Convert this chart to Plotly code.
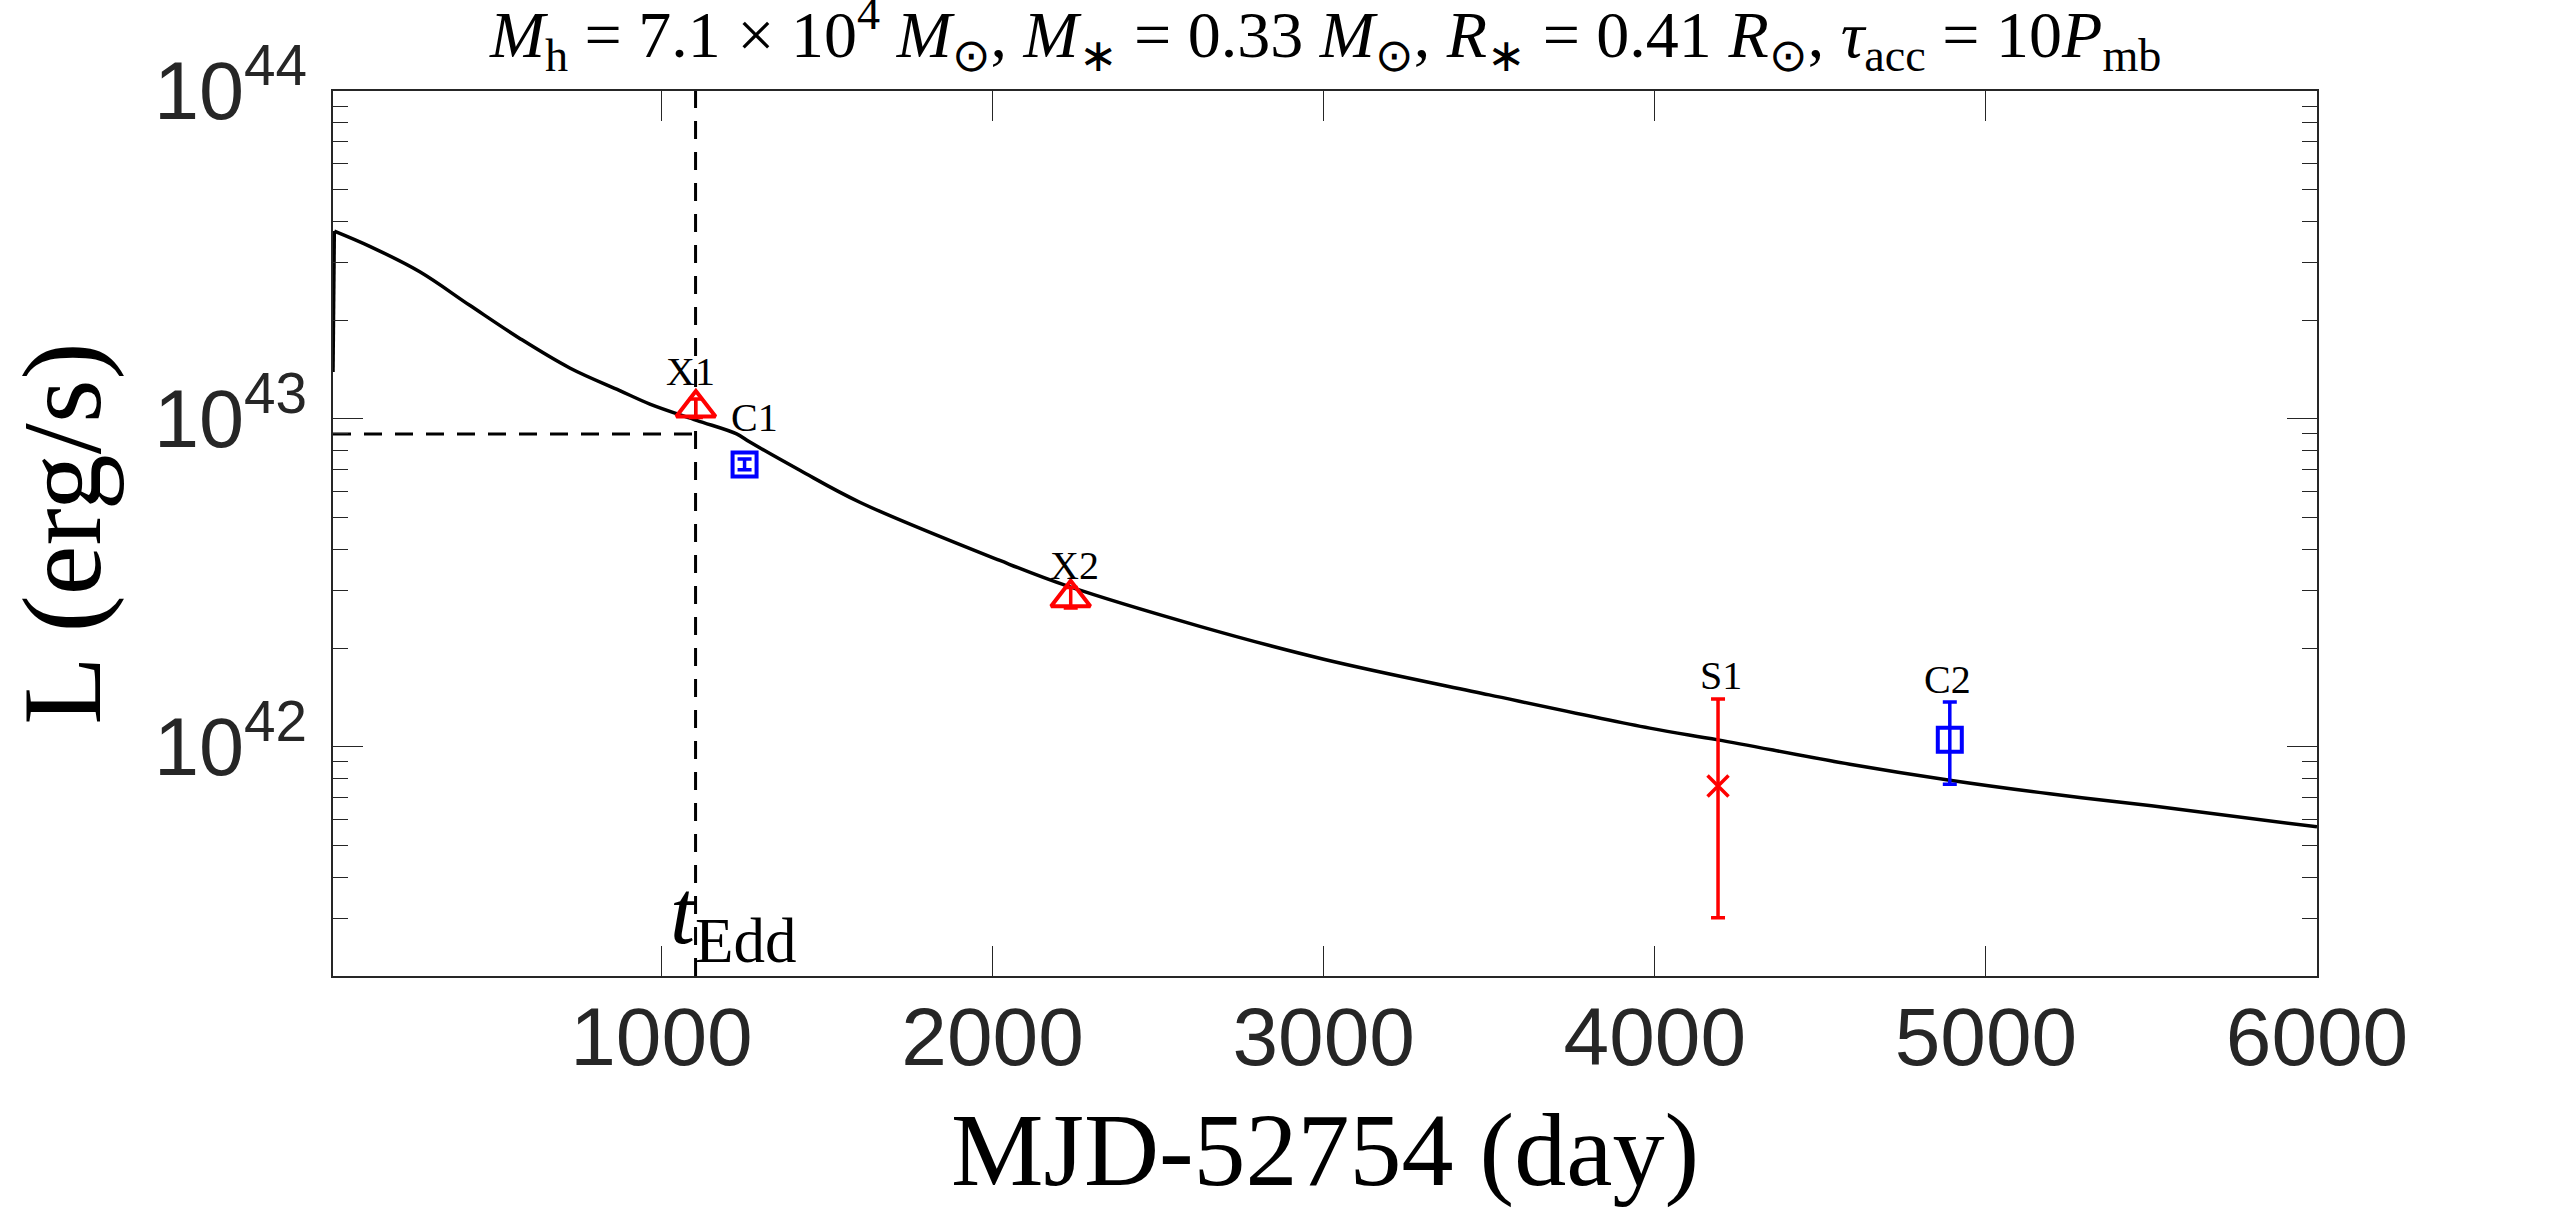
import math
import plotly.graph_objects as go

# model light curve (day, erg/s)
t_model = [8, 12, 119, 270, 421, 572, 723, 874, 965, 1106, 1227, 1267, 1418, 1599,
           2022, 2223, 2626, 3000, 3500, 3985, 4191, 4589, 4891, 5193, 5500, 6000]
L_model = [1.39e43, 3.74e43, 3.36e43, 2.81e43, 2.22e43, 1.76e43, 1.43e43, 1.22e43,
           1.11e43, 9.9e42, 9.0e42, 8.5e42, 6.97e42, 5.57e42,
           3.70e42, 3.10e42, 2.33e42, 1.85e42, 1.44e42, 1.14e42, 1.05e42, 8.85e41,
           7.91e41, 7.19e41, 6.61e41, 5.70e41]

# Eddington time / luminosity
t_edd = 1103
L_edd = 9.0e42

# observations
xmm_t = [1104, 2236]
xmm_L = [1.08e43, 2.85e42]
xmm_hi = [1.15e43, 3.06e42]
xmm_lo = [1.01e43, 2.65e42]
xmm_names = ["X1", "X2"]

chandra_t = [1251, 4891]
chandra_L = [7.26e42, 1.05e42]
chandra_hi = [7.54e42, 1.37e42]
chandra_lo = [7.00e42, 7.69e41]
chandra_names = ["C1", "C2"]

swift_t = [4191]
swift_L = [7.60e41]
swift_hi = [1.40e42]
swift_lo = [3.01e41]
swift_names = ["S1"]

x_min, x_max = 8, 6000
y_min, y_max = 2e41, 1e44
x_ticks = [1000, 2000, 3000, 4000, 5000, 6000]
y_ticks = [1e42, 1e43, 1e44]
y_ticktext = ["10<sup>42</sup>", "10<sup>43</sup>", "10<sup>44</sup>"]

AX = "#262626"
SERIF = "Liberation Serif"
SANS = "Liberation Sans"
DASH = "18px,13px"

minor_vals = [k * 10.0 ** n for n in (41, 42, 43) for k in range(2, 10)]
minor_vals = [v for v in minor_vals if y_min <= v <= y_max]


def errs(L, hi, lo):
    return [h - v for v, h in zip(L, hi)], [v - l for v, l in zip(L, lo)]


fig = go.Figure()

# dashed guide lines
fig.add_trace(go.Scatter(x=[t_edd, t_edd], y=[y_min, y_max], mode="lines",
                         line=dict(color="black", width=3, dash=DASH),
                         showlegend=False, hoverinfo="skip"))
fig.add_trace(go.Scatter(x=[x_min, t_edd], y=[L_edd, L_edd], mode="lines",
                         line=dict(color="black", width=3, dash=DASH),
                         showlegend=False, hoverinfo="skip"))

# model curve: sharp initial rise, then smooth decline
fig.add_trace(go.Scatter(x=t_model[:2], y=L_model[:2], mode="lines",
                         line=dict(color="black", width=3.5), showlegend=False))
fig.add_trace(go.Scatter(x=t_model[1:], y=L_model[1:], mode="lines",
                         line=dict(color="black", width=3.5, shape="spline", smoothing=1.0),
                         showlegend=False))

p, m = errs(xmm_L, xmm_hi, xmm_lo)
fig.add_trace(go.Scatter(
    x=xmm_t, y=xmm_L, mode="markers",
    marker=dict(symbol="triangle-up-open", size=34, color="red", line=dict(width=4, color="red")),
    error_y=dict(type="data", array=p, arrayminus=m, color="red", thickness=3.5, width=7),
    showlegend=False))

p, m = errs(chandra_L, chandra_hi, chandra_lo)
fig.add_trace(go.Scatter(
    x=chandra_t, y=chandra_L, mode="markers",
    marker=dict(symbol="square-open", size=24, color="blue", line=dict(width=4, color="blue")),
    error_y=dict(type="data", array=p, arrayminus=m, color="blue", thickness=3.5, width=7),
    showlegend=False))

p, m = errs(swift_L, swift_hi, swift_lo)
fig.add_trace(go.Scatter(
    x=swift_t, y=swift_L, mode="markers",
    marker=dict(symbol="x-thin-open", size=21, color="red", line=dict(width=3.5, color="red")),
    error_y=dict(type="data", array=p, arrayminus=m, color="red", thickness=3.5, width=7),
    showlegend=False))

# point labels, sitting on top of the error bars (log axis -> log10 for annotations)
shifts = {"X1": (-5, 3), "X2": (4, -2), "C1": (10, 17), "C2": (-2, -2), "S1": (3, -1)}
for ts, his, names in [(xmm_t, xmm_hi, xmm_names), (chandra_t, chandra_hi, chandra_names),
                       (swift_t, swift_hi, swift_names)]:
    for t, h, nm in zip(ts, his, names):
        dx, dy = shifts[nm]
        fig.add_annotation(x=t, y=math.log10(h), xref="x", yref="y", text=nm, showarrow=False,
                           xanchor="center", yanchor="bottom", xshift=dx, yshift=dy,
                           font=dict(family=SERIF, size=40, color="black"))

fig.add_annotation(x=t_edd, y=0, xref="x", yref="paper", text="<i>t</i><sub>Edd</sub>",
                   showarrow=False, xanchor="left", yanchor="bottom", xshift=-28, yshift=-2,
                   font=dict(family=SERIF, size=90, color="black"))

title = ("<i>M</i><sub>h</sub> = 7.1 × 10<sup>4</sup> <i>M</i><sub>⊙</sub>, "
         "<i>M</i><sub>∗</sub> = 0.33 <i>M</i><sub>⊙</sub>, "
         "<i>R</i><sub>∗</sub> = 0.41 <i>R</i><sub>⊙</sub>, "
         "<i>τ</i><sub>acc</sub> = 10<i>P</i><sub>mb</sub>")
fig.add_annotation(x=0.5, y=1, xref="paper", yref="paper", text=title, showarrow=False,
                   xanchor="center", yanchor="bottom", yshift=8,
                   font=dict(family=SERIF, size=66, color="black"))

fig.update_layout(
    width=2560, height=1212,
    margin=dict(l=333, r=243, t=91, b=236),
    paper_bgcolor="white", plot_bgcolor="white",
    xaxis=dict(range=[x_min, x_max], tickvals=x_ticks, ticks="inside", ticklen=30,
               tickwidth=1.3, tickcolor=AX, showline=True, linecolor=AX, linewidth=1.5,
               mirror="ticks", showgrid=False, zeroline=False,
               tickfont=dict(family=SANS, size=82, color=AX), ticklabelstandoff=-11,
               title=dict(text="MJD-52754 (day)", standoff=31,
                          font=dict(family=SERIF, size=104, color="black"))),
    yaxis=dict(type="log", range=[math.log10(y_min), math.log10(y_max)],
               tickvals=y_ticks, ticktext=y_ticktext,
               ticks="inside", ticklen=30, tickwidth=1.3, tickcolor=AX,
               showline=True, linecolor=AX, linewidth=1.5, mirror="ticks",
               showgrid=False, zeroline=False,
               minor=dict(tickvals=minor_vals, ticks="inside", ticklen=15, tickwidth=1.3,
                          tickcolor=AX, showgrid=False),
               tickfont=dict(family=SANS, size=81, color=AX), ticklabelstandoff=8,
               title=dict(text="L (erg/s)", standoff=30,
                          font=dict(family=SERIF, size=112, color="black"))),
)

# drop the default body margin so the figure fills the window exactly
fig.write_html("out.html", config={"displayModeBar": False},
               post_script="document.body.style.margin='0px';"
                           "document.body.style.overflow='hidden';")
